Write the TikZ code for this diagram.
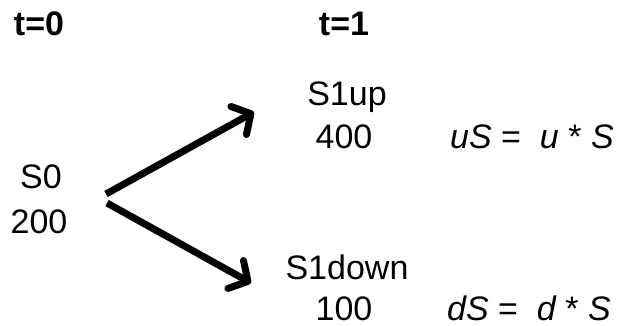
\documentclass[tikz,border=0pt]{standalone}
\usepackage{fontspec}
\setmainfont{Liberation Sans}
\usetikzlibrary{arrows.meta}
\begin{document}
\begin{tikzpicture}[x=1pt,y=-1pt,
  lbl/.style={inner sep=0pt,anchor=base,font=\fontsize{34}{40}\selectfont},
  hdr/.style={lbl,font=\fontsize{34}{40}\selectfont\bfseries},
  frm/.style={inner sep=0pt,anchor=base west,font=\fontsize{34}{40}\selectfont},
  branch/.style={line width=7pt,-{Straight Barb[length=14pt,width=32pt,round]}}]
\useasboundingbox (0,0) rectangle (627,325);
\node[hdr] (t0) at (39,35) {t=0};
\node[hdr] (t1) at (344,35) {t=1};
\node[lbl] (s0) at (41,188) {S0};
\node[lbl] (v0) at (39,233) {200};
\node[lbl] (s1u) at (347,105) {S1up};
\node[lbl] (v1u) at (344,148) {400};
\node[frm] (fu) at (450,148) {\itshape uS\upshape\ = \ \itshape u\upshape\ * \itshape S};
\node[lbl] (s1d) at (347,279) {S1down};
\node[lbl] (v1d) at (344,320) {100};
\node[frm] (fd) at (447,320) {\itshape dS\upshape\ = \ \itshape d\upshape\ * \itshape S};
\coordinate (ju) at (106,194);
\coordinate (jd) at (107,203);
\coordinate (eu) at (254,112);
\coordinate (ed) at (251,283);
\draw[branch] (ju) -- (eu);
\draw[branch] (jd) -- (ed);
\end{tikzpicture}
\end{document}
